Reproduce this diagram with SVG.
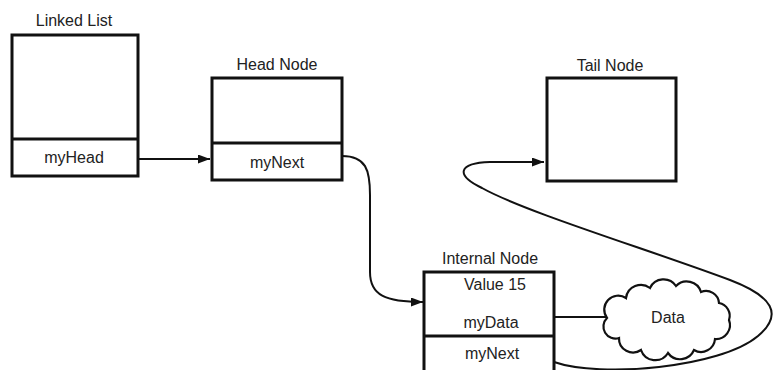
<svg xmlns="http://www.w3.org/2000/svg" width="774" height="370" viewBox="0 0 774 370">
<style>
.box{fill:#fff;stroke:#111;stroke-width:3}
.lbl{font-family:"Liberation Sans",Arial,sans-serif;font-size:16px;fill:#222;text-anchor:middle}
.con{fill:none;stroke:#111;stroke-width:2}
</style>
<defs>
<marker id="arr" markerUnits="userSpaceOnUse" markerWidth="13" markerHeight="10" refX="12" refY="4.5" orient="auto">
<path d="M0,0 L12,4.5 L0,9 z" fill="#111"/>
</marker>
</defs>
<rect width="774" height="370" fill="#fff"/>
<g id="connectors">
<path class="con" d="M138 159 L210 159" marker-end="url(#arr)"/>
<path class="con" d="M342 156 C366 156 370 170 370 195 L370 272 C370 295 385 302 423 302" marker-end="url(#arr)"/>
<path class="con" d="M554 317 L607 317"/>
<path class="con" d="M554 362 C600 378 720 368 758 336 C784 314 772 296 730 280 C650 250 525 212 482 188 C455 175 458 163 490 162 L544 162" marker-end="url(#arr)"/>
</g>
<g id="linked-list">
<text class="lbl" x="74" y="26">Linked List</text>
<rect class="box" x="12" y="35" width="126" height="141"/>
<line class="box" x1="12" y1="139" x2="138" y2="139"/>
<text class="lbl" x="74" y="163">myHead</text>
</g>
<g id="head-node">
<text class="lbl" x="277" y="70">Head Node</text>
<rect class="box" x="212" y="78" width="130" height="102"/>
<line class="box" x1="212" y1="143" x2="342" y2="143"/>
<text class="lbl" x="277" y="168">myNext</text>
</g>
<g id="tail-node">
<text class="lbl" x="610" y="71">Tail Node</text>
<rect class="box" x="547" y="78" width="129" height="103"/>
</g>
<g id="internal-node">
<text class="lbl" x="490" y="264">Internal Node</text>
<rect class="box" x="424" y="272" width="130" height="110"/>
<line class="box" x1="424" y1="336" x2="554" y2="336"/>
<text class="lbl" x="495" y="290">Value 15</text>
<text class="lbl" x="491" y="328">myData</text>
<text class="lbl" x="492" y="359">myNext</text>
</g>
<g id="data">
<path fill="#fff" stroke="#111" stroke-width="2.2" d="M607 318 A14 14 0 0 1 626 298 A15 15 0 0 1 650 288 A15 15 0 0 1 676 286 A15 15 0 0 1 701 292 A13 13 0 0 1 719 303 A13 13 0 0 1 729 320 A14 14 0 0 1 715 339 A14 14 0 0 1 694 350 A15 15 0 0 1 668 353 A15 15 0 0 1 641 350 A14 14 0 0 1 619 338 A12 12 0 0 1 607 318 Z"/>
<text class="lbl" x="668" y="323">Data</text>
</g>
</svg>
